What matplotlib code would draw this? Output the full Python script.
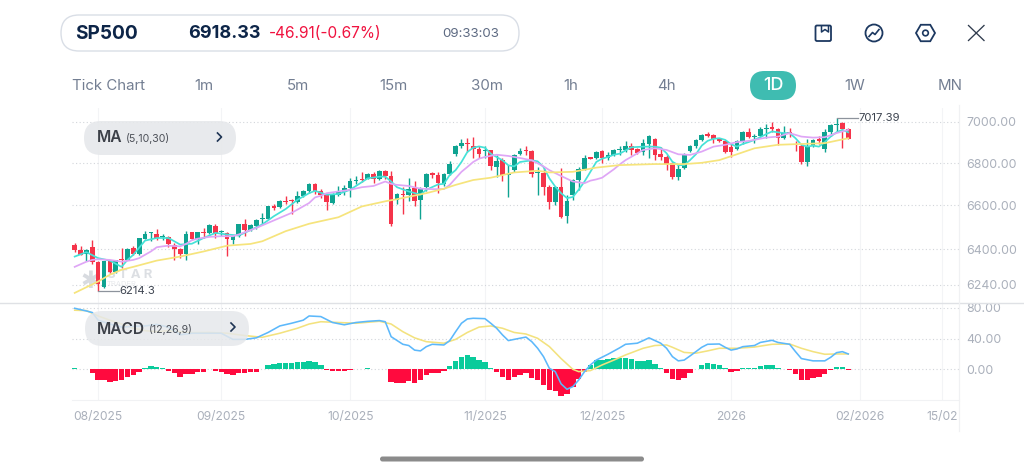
import matplotlib
matplotlib.use("Agg")
import matplotlib.pyplot as plt
from matplotlib.patches import FancyBboxPatch, Circle, RegularPolygon
from matplotlib.ticker import FixedLocator, FixedFormatter, NullLocator
import numpy as np

plt.rcParams['font.family'] = ['Inter', 'DejaVu Sans']

# Daily candles for the index
opens = [6417,6394,6376,6409,6340,6229,6347,6299,6356,6352,
         6405,6377,6447,6472,6470,6454,6454,6417,6400,6376,
         6475,6447,6476,6473,6507,6476,6473,6443,6457,6512,
         6486,6507,6535,6539,6596,6593,6620,6623,6614,6645,
         6665,6701,6668,6650,6611,6650,6662,6679,6715,6722,
         6724,6747,6722,6761,6740,6623,6654,6648,6681,6623,
         6685,6750,6745,6701,6747,6842,6883,6898,6880,6867,
         6856,6861,6781,6813,6744,6768,6843,6864,6858,6750,
         6750,6684,6617,6685,6553,6650,6719,6773,6827,6824,
         6856,6824,6840,6861,6865,6884,6866,6852,6894,6918,
         6842,6830,6798,6734,6777,6857,6884,6912,6940,6936,
         6917,6907,6879,6868,6904,6949,6925,6933,6967,6977,
         6966,6922,6951,6892,6884,6803,6888,6915,6866,6949,
         6985,6995,6965.24]
highs = [6428,6415,6400,6440,6345,6346,6352,6352,6405,6403,
         6412,6451,6484,6477,6492,6466,6461,6428,6405,6481,
         6478,6477,6496,6515,6512,6486,6476,6461,6515,6539,
         6512,6538,6565,6599,6608,6623,6642,6629,6665,6673,
         6704,6704,6678,6654,6657,6691,6696,6727,6738,6755,
         6750,6758,6766,6769,6763,6657,6685,6730,6715,6685,
         6750,6758,6758,6750,6808,6886,6915,6920,6925,6880,
         6880,6864,6837,6826,6789,6845,6872,6882,6864,6781,
         6781,6696,6691,6778,6650,6722,6781,6840,6829,6858,
         6864,6853,6867,6884,6907,6896,6874,6915,6936,6920,
         6879,6839,6806,6793,6847,6888,6917,6940,6949,6941,
         6920,6912,6896,6909,6953,6969,6941,6977,6989,6998,
         6969,6982,6969,6907,6891,6915,6915,6933,6966,6990,
         7017.39,7002,6968]
lows = [6385,6372,6345,6334,6214.3,6225,6292,6292,6314,6351,
        6372,6374,6446,6435,6443,6440,6409,6349,6360,6352,
        6443,6424,6450,6470,6450,6461,6367,6423,6455,6458,
        6481,6492,6512,6537,6577,6588,6606,6560,6611,6639,
        6657,6654,6634,6577,6606,6645,6650,6637,6701,6711,
        6722,6707,6719,6722,6504,6608,6560,6619,6598,6539,
        6665,6727,6660,6691,6743,6835,6874,6853,6824,6824,
        6826,6766,6735,6716,6639,6755,6840,6837,6735,6650,
        6650,6585,6603,6542,6519,6623,6673,6768,6818,6820,
        6802,6813,6834,6839,6855,6839,6844,6839,6822,6814,
        6814,6765,6725,6721,6773,6855,6874,6907,6925,6896,
        6901,6850,6827,6863,6892,6920,6899,6925,6920,6949,
        6888,6915,6928,6858,6793,6785,6879,6891,6852,6933,
        6949,6871,6915]
closes = [6394,6375,6397,6340,6244,6345,6298,6349,6352,6402,
          6377,6450,6466,6476,6449,6458,6421,6402,6376,6470,
          6446,6476,6473,6509,6470,6480,6446,6458,6512,6486,
          6509,6532,6541,6596,6590,6620,6617,6620,6645,6668,
          6701,6667,6648,6614,6653,6664,6682,6713,6719,6717,
          6747,6724,6763,6738,6512,6653,6648,6678,6622,6678,
          6747,6743,6704,6747,6795,6883,6898,6894,6867,6845,
          6864,6785,6810,6743,6747,6840,6859,6858,6747,6755,
          6684,6616,6685,6545,6622,6719,6771,6822,6820,6854,
          6822,6837,6862,6868,6883,6865,6848,6897,6932,6839,
          6827,6793,6731,6770,6842,6883,6912,6935,6933,6915,
          6904,6855,6855,6904,6949,6927,6932,6966,6972,6963,
          6920,6946,6941,6888,6803,6884,6912,6904,6948,6985,
          6990,6965.24,6918.33]

# Moving averages, sampled at the listed session numbers
ma5_idx = [0,2,4,6,8,9,10,12,14,16,18,20,22,24,26,28,30,32,34,36,38,40,41,43,45,47,48,
           50,52,53,54,55,57,59,60,62,63,64,65,66,67,68,69,70,71,73,74,75,76,78,79,80,
           81,82,83,84,85,86,87,88,89,90,91,92,93,95,97,99,100,101,102,103,104,105,106,
           107,108,109,110,111,112,113,114,115,116,117,118,119,120,121,122,123,124,125,
           126,127,128,129,130,131,132]
ma5 = [6366,6386,6359,6348,6320,6351,6374,6438,6450,6450,6420,6424,6450,6473,6466,6461,6486,6512,6550,6583,6626,6657,6668,6650,6653,6673,6691,
       6727,6735,6735,6712,6685,6665,6650,6673,6698,6701,6743,6766,6805,6853,6874,6880,6874,6845,6813,6789,6784,6805,6813,6808,6781,
       6727,6688,6657,6634,6639,6673,6712,6758,6805,6821,6829,6840,6845,6876,6879,6879,6874,6847,6806,6790,6790,6814,6842,
       6884,6907,6917,6920,6912,6891,6879,6892,6901,6912,6925,6940,6953,6949,6945,6945,6920,6888,6879,
       6884,6879,6901,6928,6949,6961,6949]
ma10_idx = [0,2,3,4,6,8,10,11,12,13,14,15,16,18,19,20,21,23,25,27,28,29,31,33,35,37,38,40,41,42,43,45,47,
            49,51,53,54,55,57,59,61,63,64,65,66,67,68,69,70,72,74,76,78,80,81,83,85,87,88,89,90,91,92,93,
            94,95,97,99,101,103,105,107,109,111,113,115,118,120,122,124,126,128,130,132]
ma10 = [6320,6343,6351,6354,6351,6343,6351,6359,6374,6389,6408,6412,6415,6412,6423,6440,6447,6455,6458,6458,6466,6476,6496,6519,6542,6565,6580,6611,6637,6645,6657,6665,6673,
        6685,6691,6712,6701,6696,6691,6678,6676,6676,6696,6727,6758,6781,6805,6821,6829,6840,6834,6824,6813,6784,6766,6738,6712,6704,6716,6722,6730,6750,6770,6793,
        6814,6830,6863,6871,6863,6842,6839,6855,6879,6888,6901,6907,6923,6928,6945,6928,6923,6925,6945,6961]
ma30_idx = [0,4,6,8,10,14,18,22,26,30,32,36,40,45,49,53,55,60,63,65,68,71,75,79,81,85,89,93,99,104,107,110,113,116,120,124,128,132]
ma30 = [6205,6255,6285,6307,6320,6348,6366,6389,6415,6423,6435,6481,6515,6545,6595,6619,6629,6657,6678,6696,6719,6730,6755,6763,6755,6758,6778,6790,6795,6795,6801,6814,6842,6871,6888,6892,6896,6920]

# MACD histogram for every session
macd_hist = [2,.5,.5,-5,-14,-14.5,-17,-15,-14,-9.5,
             -8,-3,1.5,4,3,2,-2,-5,-9.5,-6.5,
             -5.5,-3.5,-3.5,.5,-2.5,-3,-5.5,-7,-5,-5,
             -4,-3,.5,5,6.5,8.5,8.5,8,9,9.5,
             11,9.5,5,-1,-2.5,-2.5,-2.5,-1,.7,1,
             2,1,1,.5,-16,-17.5,-17.5,-15,-17.5,-14.5,
             -8,-4.5,-4.5,-2,4,11,16.5,18,15.5,12,
             9.5,2,-3,-10,-14.5,-10,-7,-5,-11,-14,
             -20,-27.5,-28,-35,-32.5,-22.5,-13,-3.5,5.5,12,
             12,13.5,15,14.5,15,13,10.5,10.5,12,7,
             2,-5,-13,-14.5,-11,-5,1,5,8,7,
             5,2,-3,-2,2,2,2,4,5,5,
             2,1,-1.5,-6,-14.5,-14.5,-11,-9.5,-6,-1.5,
             3,3,-1]

# MACD and signal lines
dif_idx = [0,2,3,4,6,8,10,12,14,16,18,20,23,25,27,29,31,33,35,37,39,40,42,44,46,48,50,52,53,54,
           56,57,58,59,60,61,63,64,65,66,67,68,70,71,72,73,74,75,77,78,79,80,81,82,83,84,85,86,87,88,89,91,93,94,96,97,98,100,101,
           102,103,104,105,106,107,108,110,111,112,113,114,116,117,119,120,122,123,124,126,128,129,130,131,132]
dif = [79.5,76,74,64,59,55,56,56.5,58.5,55,45,47,47,47,39,39,41,48,56.5,60,64,69.5,68.7,61,58,61,62.5,63.5,62,42.5,
       32.6,31,25,24,29.5,32.6,31.7,37.4,49,60,65.6,66.5,66,60,53.5,44.8,37.4,39,42,36,27.4,16.5,1.3,-3,-19,-26,-22.6,-14,-3,5.7,12,19.6,28,32.6,34,37.4,41,34,27.4,
       16.5,11,12,17.4,23,28.7,32.6,33,28.7,25,26.5,29.5,31,35,37.8,35,32.6,23,14,11,11,15.6,21.7,23,20]
dea_idx = [0,2,4,6,8,10,12,14,16,18,20,23,26,29,32,35,38,40,42,45,48,52,54,56,58,60,63,65,67,69,71,73,75,77,79,81,83,85,86,88,90,92,94,97,99,101,
           102,104,106,108,110,113,116,119,122,124,126,128,130,132]
dea = [77,76.5,69.5,64,59,53.5,50.4,49,50.4,49,47.8,48,47,44,41.7,47,53.5,59,62,61,60,62.6,59,49,41,36,34,39,48,55,56.5,53.5,48,46,40.4,29.6,14,0,-3,-1.7,5.7,12,18.7,27.4,31,31.7,
       28.7,22,21,24,27.4,27.4,29,32.6,33,27.4,23,19.6,20,20]

# Axis ticks
price_ticks = [7000, 6800, 6600, 6400, 6240]
macd_ticks = [80, 40, 0]
date_pos = [4, 25, 47, 70, 90, 112, 134, 148]
date_labels = ['08/2025', '09/2025', '10/2025', '11/2025', '12/2025', '2026', '02/2026', '15/02']

# Header contents
timeframes = [('Tick Chart', 108), ('1m', 204), ('5m', 298), ('15m', 393), ('30m', 487),
              ('1h', 571), ('4h', 666), ('1W', 855), ('MN', 950)]

W, H = 1024, 471
UP, DOWN = '#0fa391', '#f5344a'
HIST_UP, HIST_DOWN = '#0acb9b', '#ff0a3e'
TICK = '#aab0bb'
DOTS = '#d2d5da'


def frac_rect(left, top, right, bottom):
    return [left / W, 1 - bottom / H, (right - left) / W, (bottom - top) / H]


fig = plt.figure(figsize=(W / 100, H / 100), dpi=100, facecolor='white')

# Watermark sits behind the transparent chart panels
under = fig.add_axes([0, 0, 1, 1], zorder=-1)
under.set_xlim(0, W)
under.set_ylim(H, 0)
under.axis('off')
under.text(107, 275.5, 'S T A R', fontsize=9.5, fontweight='bold', color='#dcdfe3', va='center')
under.text(107, 283.5, 'TRADER', fontsize=5.5, color='#e8eaed', va='center')
under.text(90, 281, '\u2731', fontsize=17, color='#d8dbe0', ha='center', va='center',
           family=['DejaVu Sans'])

# Price panel
ax = fig.add_axes(frac_rect(72, 108, 959, 303))
ax.patch.set_alpha(0)
ax.set_yscale('log')
ax.set_xlim(-0.46, 150.9)
ax.set_ylim(6161, 7069)
x = np.arange(len(closes))
o, h, l, c = map(np.array, (opens, highs, lows, closes))
up = c >= o
colors = np.where(up, UP, DOWN)
ax.vlines(x, l, h, colors=colors, lw=1.0, zorder=3)
body_low = np.minimum(o, c)
body_h = np.maximum(np.abs(c - o), 3.0)
ax.bar(x, body_h, bottom=body_low, width=0.8, color=colors, linewidth=0, zorder=3)
ax.plot(ma5_idx, ma5, color='#45e2d8', lw=1.25, zorder=4)
ax.plot(ma10_idx, ma10, color='#dfa6f6', lw=1.25, zorder=4)
ax.plot(ma30_idx, ma30, color='#f6e47c', lw=1.25, zorder=4)

# High and low callouts
i_hi, i_lo = int(np.argmax(h)), int(np.argmin(l))
ax.plot([i_hi, i_hi + 3.7], [h[i_hi], h[i_hi]], color='#8d939c', lw=0.9, zorder=4)
ax.text(i_hi + 3.8, h[i_hi], f'{h[i_hi]:.2f}', fontsize=8.2, color='#3d4450', va='center')
ax.plot([i_lo, i_lo + 3.5], [l[i_lo], l[i_lo]], color='#8d939c', lw=0.9, zorder=4)
ax.text(i_lo + 3.6, l[i_lo], f'{l[i_lo]:.1f}', fontsize=8.2, color='#3d4450', va='center')

ax.yaxis.tick_right()
ax.yaxis.set_major_locator(FixedLocator(price_ticks))
ax.yaxis.set_major_formatter(FixedFormatter([f'{t:.2f}' for t in price_ticks]))
ax.yaxis.set_minor_locator(NullLocator())
ax.xaxis.set_major_locator(FixedLocator(date_pos))
ax.tick_params(axis='x', length=0, labelbottom=False)
ax.tick_params(axis='y', length=0, pad=5.5, labelsize=8.9, labelcolor=TICK)
ax.grid(axis='y', color=DOTS, ls=(0, (1, 2.2)), lw=0.8)
ax.grid(axis='x', color='#f3f4f6', lw=0.8)
ax.set_axisbelow(True)
for s in ax.spines.values():
    s.set_visible(False)

# MACD panel
mx = fig.add_axes(frac_rect(72, 303, 959, 400))
mx.patch.set_alpha(0)
mx.set_xlim(-0.46, 150.9)
mx.set_ylim(-40, 86.4)
hist = np.array(macd_hist)
mx.bar(x, hist, width=0.92, color=np.where(hist >= 0, HIST_UP, HIST_DOWN), linewidth=0, zorder=3)
mx.plot(dea_idx, dea, color='#f3e27e', lw=1.15, zorder=4)
mx.plot(dif_idx, dif, color='#5cb8fb', lw=1.15, zorder=4)
mx.yaxis.tick_right()
mx.yaxis.set_major_locator(FixedLocator(macd_ticks))
mx.yaxis.set_major_formatter(FixedFormatter([f'{t:.2f}' for t in macd_ticks]))
mx.xaxis.set_major_locator(FixedLocator(date_pos))
mx.xaxis.set_major_formatter(FixedFormatter(date_labels))
mx.tick_params(axis='x', length=0, pad=8, labelsize=8.7, labelcolor=TICK)
mx.tick_params(axis='y', length=0, pad=5.5, labelsize=8.9, labelcolor=TICK)
mx.grid(axis='y', color=DOTS, ls=(0, (1, 2.2)), lw=0.8)
mx.grid(axis='x', color='#f3f4f6', lw=0.8)
mx.set_axisbelow(True)
for s in mx.spines.values():
    s.set_visible(False)
mx.spines['bottom'].set_visible(True)
mx.spines['bottom'].set_color('#f1f2f4')
mx.spines['bottom'].set_linewidth(0.8)

# Header, indicator pills and frame lines, drawn in pixel coordinates
ui = fig.add_axes([0, 0, 1, 1], zorder=10)
ui.set_xlim(0, W)
ui.set_ylim(H, 0)
ui.axis('off')
ui.patch.set_alpha(0)


def pill(left, top, right, bottom, **kw):
    r = (bottom - top) / 2
    ui.add_patch(FancyBboxPatch((left + r, top + r), right - left - 2 * r, 0.001,
                                boxstyle=f'round,pad={r - 0.001},rounding_size={r}', **kw))


ui.plot([0, W], [303, 303], color='#dfe1e5', lw=1)
ui.plot([959, 959], [105, 431], color='#f0f1f3', lw=0.9)

pill(61, 15, 519, 51, facecolor='white', edgecolor='#d9dee6', lw=1)
ui.text(75, 34, 'SP500', fontsize=13.7, fontweight='bold', color='#0d2548', va='center')
ui.text(188, 34, f'{closes[-1]:.2f}', fontsize=13, fontweight='bold', color='#0d2548', va='center')
change = closes[-1] - closes[-2]
pct = change / closes[-2] * 100
ui.text(269, 34, f'{change:.2f}({pct:.2f}%)', fontsize=11.1, color='#f0123f', va='center')
ui.text(442, 34, '09:33:03', fontsize=9.6, color='#5d6a82', va='center')

for label, px in timeframes:
    ui.text(px, 85.5, label, fontsize=10.8, color='#737e92', ha='center', va='center')
pill(750, 71, 796, 100, facecolor='#3fbcb1', edgecolor='none')
ui.text(773, 86, '1D', fontsize=13, fontweight='medium', color='white', ha='center', va='center')

pill(84, 121, 236, 155, facecolor='#e6e8eb', edgecolor='none', alpha=0.9)
ui.text(97, 138, 'MA', fontsize=11.2, fontweight='semibold', color='#3c4048', va='center')
ui.text(126, 138.5, '(5,10,30)', fontsize=7.6, color='#4c5058', va='center')
ui.plot([217.5, 221.5, 217.5], [133, 137, 141], color='#1e3454', lw=1.2)

pill(85, 311, 249, 346, facecolor='#e6e8eb', edgecolor='none', alpha=0.85)
ui.text(97, 329, 'MACD', fontsize=11.2, fontweight='semibold', color='#3c4048', va='center')
ui.text(149, 329.5, '(12,26,9)', fontsize=7.6, color='#4c5058', va='center')
ui.plot([231, 235, 231], [323, 327, 331], color='#1e3454', lw=1.2)

# Toolbar icons
NAVY = '#1c3860'
ui.add_patch(FancyBboxPatch((815.5, 25.5), 15.5, 15.5, boxstyle='round,pad=0,rounding_size=1.5',
                            fc='none', ec=NAVY, lw=1.3))
ui.plot([821.5, 821.5, 825, 828.5, 828.5], [26, 32, 29.5, 32, 26], color=NAVY, lw=1.1)
ui.add_patch(Circle((874, 33), 8.5, fc='none', ec=NAVY, lw=1.3))
ui.plot([869, 872.5, 875, 879], [36.5, 32.5, 34.5, 29.5], color=NAVY, lw=1.2)
ui.add_patch(RegularPolygon((925.5, 33), 6, radius=9.5, orientation=np.pi / 2,
                            fc='none', ec=NAVY, lw=1.3))
ui.add_patch(Circle((925.5, 33), 2.8, fc='none', ec=NAVY, lw=1.2))
ui.plot([968.5, 984], [25.5, 40.5], color='#2f3b4d', lw=0.95)
ui.plot([968.5, 984], [40.5, 25.5], color='#2f3b4d', lw=0.95)

# Home indicator
pill(380, 456.5, 644, 461.5, facecolor='#8b8b8b', edgecolor='none')

fig.savefig('out.png', dpi=100)
